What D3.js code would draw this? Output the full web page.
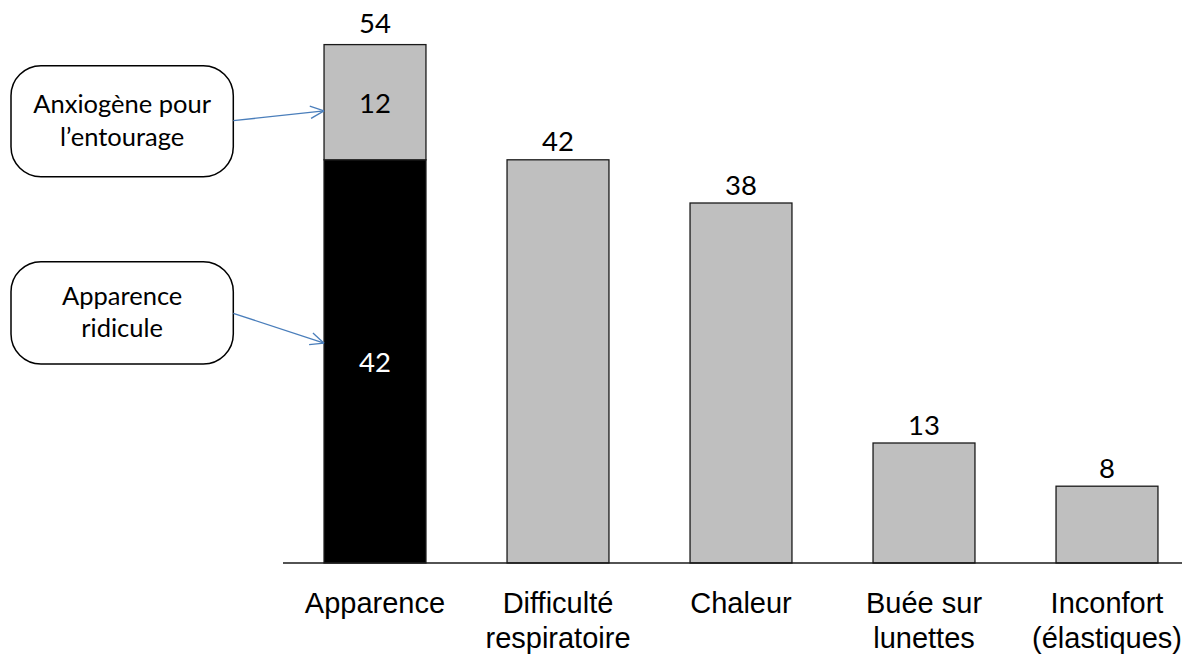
<!DOCTYPE html>
<html>
<head>
<meta charset="utf-8">
<script src="https://cdn.jsdelivr.net/npm/d3@7"></script>
<style>
  html, body { margin: 0; padding: 0; background: #fff; }
  svg { display: block; font-family: Lato, "Open Sans", sans-serif; }
</style>
</head>
<body>
<svg id="chart" width="1202" height="663"></svg>
<script>
// ---- data ----
const categories = ["Apparence", "Difficulté\nrespiratoire", "Chaleur", "Buée sur\nlunettes", "Inconfort\n(élastiques)"];
const baseValues = [42, 42, 37.5, 12.5, 8];     // lower (or only) segment
const topValues  = [12, 0, 0, 0, 0];            // stacked upper segment
const baseColors = ["#000000", "#BFBFBF", "#BFBFBF", "#BFBFBF", "#BFBFBF"];
const calloutTexts = [["Anxiogène pour", "l’entourage"], ["Apparence", "ridicule"]];
const calloutTargets = [47.1, 22.9];            // value level pointed at on first bar

// ---- layout ----
const svg = d3.select("#chart");
const baseY = 563;
const x = d3.scaleBand().domain(categories).range([283.5, 1198.5]).paddingInner(0.443).paddingOuter(0.2215);
const y = d3.scaleLinear().domain([0, 54]).range([baseY, 44.6]);

const rows = categories.map((c, i) => ({ c, base: baseValues[i], top: topValues[i], total: baseValues[i] + topValues[i], color: baseColors[i] }));

// bars: base segment
svg.append("g").selectAll("rect").data(rows).join("rect")
  .attr("x", d => x(d.c)).attr("width", x.bandwidth())
  .attr("y", d => y(d.base)).attr("height", d => y(0) - y(d.base))
  .attr("fill", d => d.color).attr("stroke", "#1a1a1a").attr("stroke-width", 1.3);

// bars: top segment
svg.append("g").selectAll("rect").data(rows.filter(d => d.top > 0)).join("rect")
  .attr("x", d => x(d.c)).attr("width", x.bandwidth())
  .attr("y", d => y(d.total)).attr("height", d => y(d.base) - y(d.total))
  .attr("fill", "#BFBFBF").attr("stroke", "#1a1a1a").attr("stroke-width", 1.3);

// axis
svg.append("line").attr("x1", 283).attr("x2", 1182).attr("y1", baseY).attr("y2", baseY)
  .attr("stroke", "#1a1a1a").attr("stroke-width", 1.3);

const axis = svg.append("g").attr("transform", `translate(0,${baseY})`)
  .call(d3.axisBottom(x).tickSize(0).tickFormat(""));
axis.select(".domain").remove();
axis.selectAll(".tick").each(function(d) {
  const t = d3.select(this).append("text").attr("fill", "#000")
    .attr("text-anchor", "middle").attr("font-size", 29);
  d.split("\n").forEach((line, i) => {
    t.append("tspan").attr("x", 0).attr("y", 50 + i * 35).text(line);
  });
});

// value labels
const fmt = v => String(Math.round(v));
svg.append("g").selectAll("text").data(rows).join("text")
  .attr("x", d => x(d.c) + x.bandwidth() / 2)
  .attr("y", d => y(d.total) - (d.top > 0 ? 12 : 8.5))
  .attr("text-anchor", "middle").attr("font-size", 27.5).attr("fill", "#000")
  .text(d => fmt(d.total));

// inner labels for stacked bar
const stacked = rows.filter(d => d.top > 0);
svg.append("g").selectAll("text").data(stacked).join("text")
  .attr("x", d => x(d.c) + x.bandwidth() / 2)
  .attr("y", d => (y(d.total) + y(d.base)) / 2 + 11)
  .attr("text-anchor", "middle").attr("font-size", 27.5).attr("fill", "#000")
  .text(d => fmt(d.top));
svg.append("g").selectAll("text").data(stacked).join("text")
  .attr("x", d => x(d.c) + x.bandwidth() / 2)
  .attr("y", d => (y(d.base) + y(0)) / 2 + 11)
  .attr("text-anchor", "middle").attr("font-size", 27.5).attr("fill", "#fff")
  .text(d => fmt(d.base));

// callouts
const boxes = [{ x: 11, y: 65.7, w: 222.3, h: 111, ay: 120.7 }, { x: 11, y: 261.7, w: 222.3, h: 102.3, ay: 313.3 }];
const arrowColor = "#4A7EBB";
boxes.forEach((b, i) => {
  const g = svg.append("g");
  g.append("rect").attr("x", b.x).attr("y", b.y).attr("width", b.w).attr("height", b.h)
    .attr("rx", 30).attr("ry", 30).attr("fill", "#fff").attr("stroke", "#000").attr("stroke-width", 1.5);
  const cx = b.x + b.w / 2, cy = b.y + b.h / 2;
  const t = g.append("text").attr("text-anchor", "middle").attr("font-size", 25.5).attr("fill", "#000");
  calloutTexts[i].forEach((line, j) => {
    t.append("tspan").attr("x", cx).attr("y", cy - 8 + j * 32.5).text(line);
  });
  // arrow
  const x1 = b.x + b.w, y1 = b.ay;
  const x2 = x(categories[0]), y2 = y(calloutTargets[i]);
  g.append("line").attr("x1", x1).attr("y1", y1).attr("x2", x2).attr("y2", y2)
    .attr("stroke", arrowColor).attr("stroke-width", 1.3);
  const ang = Math.atan2(y2 - y1, x2 - x1);
  const L = 15, spread = 0.42;
  [-spread, spread].forEach(s => {
    g.append("line").attr("x1", x2).attr("y1", y2)
      .attr("x2", x2 - L * Math.cos(ang + s)).attr("y2", y2 - L * Math.sin(ang + s))
      .attr("stroke", arrowColor).attr("stroke-width", 1.3);
  });
});
</script>
</body>
</html>
